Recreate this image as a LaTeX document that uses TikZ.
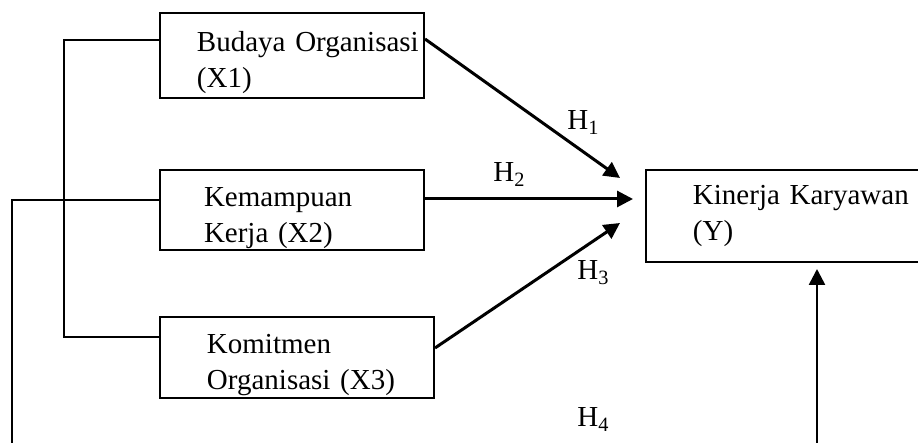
\documentclass[tikz,border=0pt]{standalone}
\usepackage{fontspec}
\setmainfont{Liberation Serif}
\usetikzlibrary{arrows.meta}
\tikzstyle{vbox}=[rectangle,draw=black,line width=1pt,inner sep=0pt,align=left,font=\fontsize{14.5}{18}\selectfont]
\tikzstyle{hlab}=[anchor=base west,inner sep=0pt,font=\fontsize{14.5}{18}\selectfont]
\tikzstyle{harrow}=[-{Triangle[length=8pt,width=8pt]}, line width=1.5pt]
\tikzstyle{brk}=[line width=1.1pt]
\tikzset{inset/.style={execute at begin node={\leftskip=#1}}}

\begin{document}
\begin{tikzpicture}[x=0.5pt,y=0.5pt]
\useasboundingbox (0,0) rectangle (918,443);
\clip (0,0) rectangle (918,443);
\node[vbox,text width=132pt,minimum height=42.5pt,text height=17pt,inset=18.5pt] (x1) at (292,387.5) {Budaya Organisasi\\(X1)};
\node[vbox,text width=132pt,minimum height=40pt,text height=18pt,inset=22pt] (x2) at (292,233) {Kemampuan\\Kerja (X2)};
\node[vbox,text width=137pt,minimum height=40.5pt,text height=17pt,inset=23.5pt] (x3) at (297,85.5) {Komitmen\\Organisasi (X3)};
\node[vbox,text width=142pt,minimum height=46pt,inset=23.5pt] (y) at (788,227) {Kinerja Karyawan\\(Y)};
\coordinate (t1) at (620,265);
\coordinate (t2) at (633,244);
\coordinate (t3) at (620,220);
\node[hlab] (h1) at (567,313) {H\textsubscript{1}};
\node[hlab] (h2) at (493,261) {H\textsubscript{2}};
\node[hlab] (h3) at (577,163) {H\textsubscript{3}};
\node[hlab] (h4) at (577,16) {H\textsubscript{4}};
% x1 - x3 bracket and the X2 line round to Y
\draw[brk] ([yshift=7.75pt]x1.west) -- ++(-95,0) |- ([yshift=10.25pt]x3.west);
\draw[brk,line width=1.3pt,-{Triangle[length=8pt,width=8pt]}] ([yshift=5pt]x2.west) -- ++(-147,0) -- ++(0,-250) -| ([xshift=14.5pt,yshift=-3pt]y.south);
\draw[harrow] ([yshift=8.25pt]x1.east) -- (t1);
\draw[harrow] ([yshift=5.5pt]x2.east) -- (t2);
\draw[harrow] ([yshift=4.75pt]x3.east) -- (t3);
\end{tikzpicture}
\end{document}
